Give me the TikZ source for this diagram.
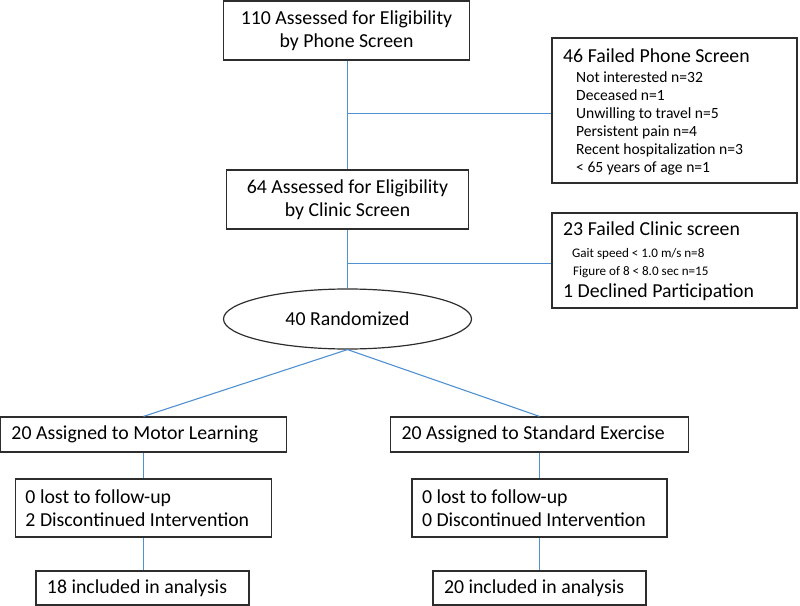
\documentclass[tikz,border=0pt]{standalone}
\usepackage{fontspec}
\setmainfont{Carlito}
\usetikzlibrary{shapes.geometric}
\definecolor{lineblue}{RGB}{80,145,210}
\definecolor{boxline}{RGB}{45,45,45}
\begin{document}
\begin{tikzpicture}[x=1bp,y=-1bp,
  box/.style={draw=boxline, line width=1.2bp, rectangle, inner sep=0pt},
  lbox/.style={box, align=left, execute at begin node={\spaceskip=0pt\xspaceskip=0pt\relax}},
  conn/.style={draw=lineblue, line width=1.1bp},
  big/.style={font=\fontsize{19.8bp}{23bp}\selectfont},
  mid/.style={font=\fontsize{15.6bp}{18bp}\selectfont},
  sml/.style={font=\fontsize{13.1bp}{17bp}\selectfont},
  txt/.style={anchor=base west, inner sep=0pt}]
\useasboundingbox (0,0) rectangle (800,606);

% main column
\node[box, big, align=center, minimum width=246bp, minimum height=59bp] (phone) at (346.5,30.5)
  {110 Assessed for Eligibility\\by Phone Screen};
\node[box, big, align=center, minimum width=242bp, minimum height=59bp] (clinic) at (347.5,199.5)
  {64 Assessed for Eligibility\\by Clinic Screen};
\node[ellipse, draw=boxline, line width=1.2bp, inner sep=0pt, minimum width=248bp, minimum height=60bp, big] (rand) at (347.5,319)
  {40 Randomized};

% exclusion boxes
\node[box, minimum width=245bp, minimum height=145bp] (pfail) at (674.5,110.5) {};
\node[txt, big] (pf0) at (563,63) {46 Failed Phone Screen};
\node[txt, mid] (pf1) at (576,83) {Not interested n=32};
\node[txt, mid] (pf2) at (576,101) {Deceased n=1};
\node[txt, mid] (pf3) at (576,119) {Unwilling to travel n=5};
\node[txt, mid] (pf4) at (576,137) {Persistent pain n=4};
\node[txt, mid] (pf5) at (576,155) {Recent hospitalization n=3};
\node[txt, mid] (pf6) at (576,173) {< 65 years of age n=1};

\node[box, minimum width=245bp, minimum height=95bp] (cfail) at (674.5,260.5) {};
\node[txt, big] (cf0) at (563,236) {23 Failed Clinic screen};
\node[txt, sml] (cf1) at (572,257) {Gait speed < 1.0 m/s n=8};
\node[txt, sml] (cf2) at (573,275) {Figure of 8 < 8.0 sec n=15};
\node[txt, big] (cf3) at (563,297) {1 Declined Participation};

% arms
\node[lbox, big, text width=264bp, inner xsep=11bp, minimum height=35bp] (ml) at (143.5,434.5)
  {20 Assigned to Motor Learning};
\node[lbox, big, text width=276bp, inner xsep=11bp, minimum height=35bp] (se) at (539.5,434.5)
  {20 Assigned to Standard Exercise};
\node[lbox, big, text width=236bp, inner xsep=10bp, minimum height=58bp] (ml2) at (143.5,508)
  {0 lost to follow-up\\2 Discontinued Intervention};
\node[lbox, big, text width=235bp, inner xsep=10bp, minimum height=58bp] (se2) at (539.5,508)
  {0 lost to follow-up\\0 Discontinued Intervention};
\node[lbox, big, text width=191bp, inner xsep=11bp, minimum height=34bp] (ml3) at (142.5,588)
  {18 included in analysis};
\node[lbox, big, text width=191bp, inner xsep=11bp, minimum height=34bp] (se3) at (539.5,588)
  {20 included in analysis};

% connectors
\coordinate (b1) at (347.5,113.5);
\coordinate (b2) at (347.5,263.5);
\draw[conn] (phone.south -| b1) -- (clinic.north -| b1);
\draw[conn] (b1) -- (pfail.west |- b1);
\draw[conn] (clinic.south -| b2) -- (rand.north);
\draw[conn] (b2) -- (cfail.west |- b2);
\draw[conn] (rand.south) -- (ml.north);
\draw[conn] (rand.south) -- (se.north);
\draw[conn] (ml.south) -- (ml2.north);
\draw[conn] (ml2.south) -- (ml3.north -| ml2.south);
\draw[conn] (se.south) -- (se2.north);
\draw[conn] (se2.south) -- (se3.north);
\end{tikzpicture}
\end{document}
